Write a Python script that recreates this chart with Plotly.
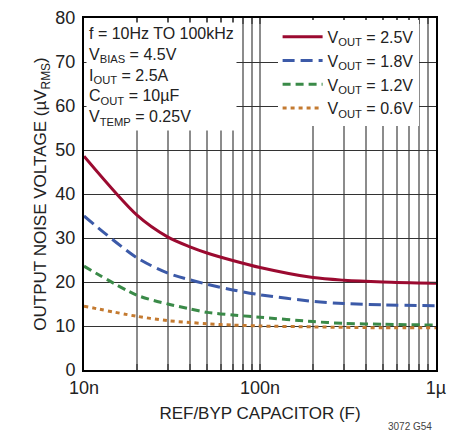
import plotly.graph_objects as go

# ref/byp capacitor (F)
cap = [10e-9, 20e-9, 30e-9, 40e-9, 50e-9, 70e-9, 100e-9, 200e-9, 300e-9, 500e-9, 1e-6]

# output noise (uV rms) per VOUT
noise_25 = [48.6, 35.2, 30.2, 28.0, 26.6, 24.9, 23.3, 21.0, 20.4, 20.0, 19.7]
noise_18 = [35.0, 25.5, 22.0, 20.5, 19.5, 18.2, 17.1, 15.6, 15.1, 14.8, 14.6]
noise_12 = [23.6, 17.0, 15.0, 13.9, 13.1, 12.5, 12.0, 11.0, 10.6, 10.4, 10.2]
noise_06 = [14.5, 12.2, 11.2, 10.8, 10.5, 10.2, 10.0, 9.8, 9.7, 9.6, 9.6]

series = [
    ('V<sub>OUT</sub> = 2.5V', noise_25, '#9b0a30', 'solid'),
    ('V<sub>OUT</sub> = 1.8V', noise_18, '#3c5aa8', '12px,6px'),
    ('V<sub>OUT</sub> = 1.2V', noise_12, '#3a8a48', '8px,5px'),
    ('V<sub>OUT</sub> = 0.6V', noise_06, '#c47a30', '4px,4px'),
]

# decade labels; 2-9 multiples get minor grid lines
xticks = [1e-8, 1e-7, 1e-6]
xtext = ['10n', '100n', '1µ']

fig = go.Figure()
for name, ys, color, dash in series:
    fig.add_trace(go.Scatter(
        x=cap, y=ys, name=name, mode='lines',
        line=dict(color=color, width=3, dash=dash, shape='spline', smoothing=0.8),
    ))

font = 'Liberation Sans, Arial, sans-serif'

# page body has an 8px margin, so the figure is sized/offset to compensate
fig.update_layout(
    width=452, height=424,
    margin=dict(l=76, r=24, t=10, b=62, autoexpand=False),
    paper_bgcolor='white', plot_bgcolor='white',
    font=dict(family=font, size=17, color='#222'),
    showlegend=True,
    legend=dict(
        x=0.55, y=0.995, xanchor='left', yanchor='top',
        bgcolor='white', font=dict(size=16), itemwidth=40,
        tracegroupgap=0, traceorder='normal',
    ),
    xaxis=dict(
        type='log', range=[-8, -6], automargin=False,
        tickvals=xticks, ticktext=xtext,
        showgrid=True, gridcolor='#8c8c8c', gridwidth=1.5,
        minor=dict(showgrid=True, gridcolor='#8c8c8c', gridwidth=1.5, dtick='D1',
                   ticks='inside', ticklen=6, tickcolor='#555', tickwidth=1.5),
        showline=True, linecolor='black', linewidth=2, mirror='allticks',
        ticks='inside', ticklen=6, tickcolor='#555', tickwidth=1.5,
        tickfont=dict(size=18), ticklabelstandoff=0, ticklabeloverflow='allow',
        title=dict(text='REF/BYP CAPACITOR (F)', font=dict(size=17), standoff=11),
    ),
    yaxis=dict(
        range=[0, 80], dtick=10, automargin=False,
        showgrid=True, gridcolor='#333', gridwidth=1,
        showline=True, linecolor='black', linewidth=2, mirror='allticks',
        ticks='inside', ticklen=6, tickcolor='#333', tickwidth=1,
        tickfont=dict(size=18), zeroline=False,
        ticklabelstandoff=3, ticklabeloverflow='allow',
        title=dict(text='OUTPUT NOISE VOLTAGE (µV<sub>RMS</sub>)', font=dict(size=17), standoff=4),
    ),
    annotations=[
        dict(
            text='f = 10Hz TO 100kHz<br>V<sub>BIAS</sub> = 4.5V<br>I<sub>OUT</sub> = 2.5A'
                 '<br>C<sub>OUT</sub> = 10µF<br>V<sub>TEMP</sub> = 0.25V',
            xref='paper', yref='paper', x=0.005, y=0.99,
            xanchor='left', yanchor='top', align='left', showarrow=False,
            bgcolor='white', font=dict(size=16), borderpad=2,
        ),
        dict(
            text='3072 G54', xref='paper', yref='paper', x=0.925, y=-0.14,
            xanchor='center', yanchor='top', showarrow=False,
            font=dict(size=10, color='#444'),
        ),
    ],
)

fig.write_html('out.html')
